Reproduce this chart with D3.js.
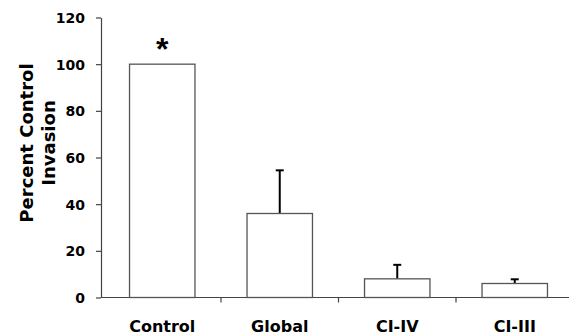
<!DOCTYPE html>
<meta charset="utf-8">
<style>
    body { margin: 0; background: #fff; }
    text { font-family: "DejaVu Sans", sans-serif; font-weight: bold; }
    .axis path, .axis line { stroke: #444; stroke-width: 1.2; }
    .axis text { font-size: 14px; fill: #000; }
    .bar { fill: #fff; stroke: #555; stroke-width: 1.3; }
    .err { stroke: #000; stroke-width: 2; }
</style>
<body></body>
<script src="https://d3js.org/d3.v7.min.js"></script>
<script>
    // data
    var categories = ["Control", "Global", "CI-IV", "CI-III"];
    var values = [100, 36, 8, 6];
    var errors = [0, 18.5, 6, 1.8];
    var yTicks = [0, 20, 40, 60, 80, 100, 120];

    var width = 569, height = 335;
    var margin = {top: 17.5, bottom: 37.5, left: 101};

    var svg = d3.select("body").append("svg")
        .attr("width", width)
        .attr("height", height);

    // category slots run a bit past the right edge, like the original
    var x = d3.scaleBand()
        .domain(categories)
        .range([103.5, 573.5])
        .paddingInner(0.443)
        .paddingOuter(0.2215);

    var y = d3.scaleLinear()
        .domain([0, 120])
        .range([height - margin.bottom, margin.top]);

    // y axis
    var yAxis = svg.append("g")
        .attr("class", "axis")
        .attr("transform", "translate(" + margin.left + ",0)")
        .call(d3.axisLeft(y).tickValues(yTicks).tickSize(5).tickPadding(11).tickSizeOuter(0));
    yAxis.selectAll("text").attr("dy", "0.36em");

    // x axis: ticks sit between categories
    var xg = svg.append("g")
        .attr("class", "axis")
        .attr("transform", "translate(0," + y(0) + ")");
    xg.append("line")
        .attr("x1", margin.left).attr("x2", width)
        .attr("y1", 0).attr("y2", 0);
    var step = x.step();
    xg.selectAll(".tk")
        .data(categories.slice(1))
        .enter().append("line")
        .attr("class", "tk")
        .attr("x1", function(d) { return x(d) - (step - x.bandwidth()) / 2; })
        .attr("x2", function(d) { return x(d) - (step - x.bandwidth()) / 2; })
        .attr("y1", 0).attr("y2", 5);
    xg.selectAll(".lbl")
        .data(categories)
        .enter().append("text")
        .attr("class", "lbl")
        .attr("x", function(d) { return x(d) + x.bandwidth() / 2; })
        .attr("y", 34.5)
        .attr("text-anchor", "middle")
        .style("font-size", "16px")
        .text(function(d) { return d; });

    // error bars (upper only), drawn behind bars
    svg.selectAll(".errg")
        .data(categories.filter(function(d, i) { return errors[i] > 0; }))
        .enter().append("g")
        .attr("class", "errg")
        .each(function(d) {
            var i = categories.indexOf(d);
            var cx = x(d) + x.bandwidth() / 2;
            var g = d3.select(this);
            g.append("line").attr("class", "err")
                .attr("x1", cx).attr("x2", cx)
                .attr("y1", y(values[i])).attr("y2", y(values[i] + errors[i]));
            g.append("line").attr("class", "err")
                .attr("x1", cx - 4).attr("x2", cx + 4)
                .attr("y1", y(values[i] + errors[i])).attr("y2", y(values[i] + errors[i]));
        });

    svg.selectAll(".bar")
        .data(categories)
        .enter().append("rect")
        .attr("class", "bar")
        .attr("x", function(d) { return x(d); })
        .attr("y", function(d, i) { return y(values[i]); })
        .attr("width", x.bandwidth())
        .attr("height", function(d, i) { return y(0) - y(values[i]); });

    // significance mark
    svg.append("text")
        .attr("x", x("Control") + x.bandwidth() / 2)
        .attr("y", y(100) - 4.5)
        .attr("text-anchor", "middle")
        .style("font-family", "'Liberation Sans', Arial, sans-serif")
        .style("font-size", "32px")
        .text("*");

    // y axis title
    var ty = svg.append("text")
        .attr("transform", "translate(33,143) rotate(-90)")
        .attr("text-anchor", "middle")
        .style("font-size", "18px");
    ty.append("tspan").attr("x", 0).attr("y", 0).text("Percent Control");
    ty.append("tspan").attr("x", 0).attr("y", 22).text("Invasion");
</script>
